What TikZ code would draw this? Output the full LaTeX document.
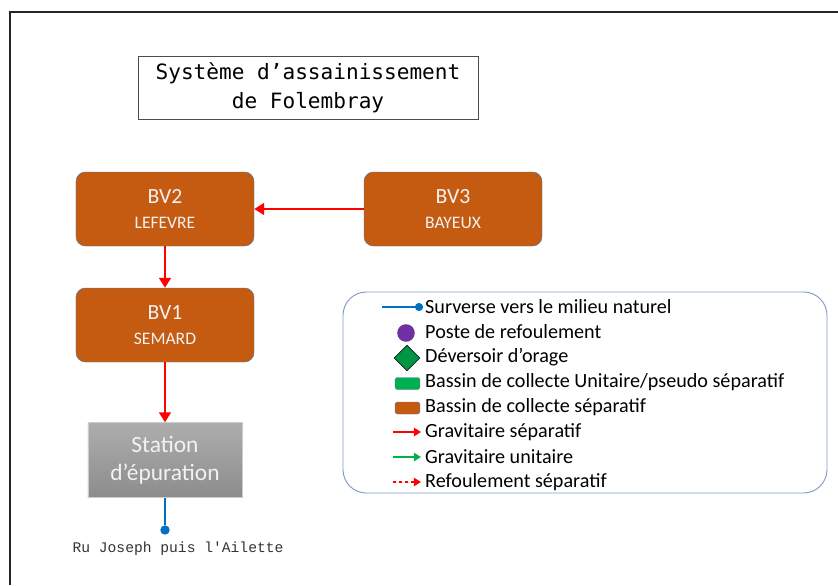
\documentclass[tikz,border=0pt]{standalone}
\usepackage{fontspec}
\setmainfont{Carlito}
\setmonofont{DejaVu Sans Mono}
\newfontfamily\riverfont{Liberation Mono}
\usetikzlibrary{arrows.meta,shapes.geometric}
\definecolor{bvbrown}{HTML}{C55A11}
\definecolor{bvedge}{HTML}{5B7BA6}
\definecolor{legedge}{HTML}{7F9CC8}
\definecolor{sepred}{HTML}{FF0000}
\definecolor{unigreen}{HTML}{00B050}
\definecolor{overblue}{HTML}{0070C0}
\definecolor{prpurple}{HTML}{7030A0}
\definecolor{lighttext}{HTML}{F2F2F2}
\begin{document}
\begin{tikzpicture}
[x=0.03cm,y=-0.03cm,
  bvbox/.style={draw=bvedge,fill=bvbrown,rounded corners=8pt,%
    minimum width=5.34cm,minimum height=2.22cm,text=lighttext,align=center,%
    font=\fontsize{18.5}{20}\selectfont},
  sepflow/.style={draw=sepred,line width=2pt,-{Triangle[length=8.5pt,width=10pt]}},
  outflow/.style={draw=overblue,line width=2pt},
  outdot/.style={circle,fill=overblue,inner sep=0pt,minimum size=8pt},
  legtext/.style={anchor=west,inner sep=0pt,font=\fontsize{17.2}{18}\selectfont},
  legarrow/.style={line width=1.8pt,-{Triangle[length=6pt,width=7pt]}},
  dottedflow/.style={dash pattern=on 2.5pt off 2.5pt}]
\useasboundingbox (0,0) rectangle (838,585);
%% frame
\draw[line width=1.2pt,black!85] (10,585) -- (10,12) -- (838,12);
%% title
\node (title) at (308,88) [draw=black!70,minimum width=10.2cm,minimum height=1.89cm,%
  align=center,font=\ttfamily\fontsize{18}{25}\selectfont]
  {Système d’assainissement\\de Folembray};
%% catchment areas
\foreach \nodename/\code/\street/\x/\y in {bvtwo/BV2/LEFEVRE/165/209,
  bvthree/BV3/BAYEUX/453/209, bvone/BV1/SEMARD/165/325} {
  \node (\nodename) at (\x,\y) [bvbox]
    {\code\\[1pt]{\fontsize{15}{15}\selectfont \street}};
}
%% treatment plant
\node (step) at (165,460) [draw=black!20,top color=black!32,bottom color=black!45,%
  minimum width=4.62cm,minimum height=2.25cm,align=center,text=lighttext,%
  font=\fontsize{20}{24}\selectfont] {Station\\d’épuration};
%% edges or lines
\path
\foreach \startnode/\endnode in {bvthree/bvtwo, bvtwo/bvone, bvone/step} {
  (\startnode) edge[sepflow] node {} (\endnode)
};
\node (outlet) at (165,530) [outdot] {};
\draw[outflow] (step) -- (outlet);
\node (river) at (178,549) [font=\riverfont\fontsize{12.5}{14}\selectfont,text=black!80]
  {Ru Joseph puis l'Ailette};
%% legend
\node (legend) at (585,392.5) [draw=legedge,line width=0.8pt,rounded corners=20pt,%
  minimum width=14.52cm,minimum height=6.03cm] {};
\foreach \i/\txt in {0/Surverse vers le milieu naturel, 1/Poste de refoulement,
  2/Déversoir d’orage, 3/{Bassin de collecte Unitaire/pseudo séparatif},
  4/Bassin de collecte séparatif, 5/Gravitaire séparatif,
  6/Gravitaire unitaire, 7/Refoulement séparatif} {
  \node (leg\i) at (425,307+25*\i) [legtext] {\txt};
}
\coordinate (survstart) at (382,307);
\node (survdot) at (419,307) [outdot,minimum size=7pt] {};
\draw[outflow,line width=1.6pt] (survstart) -- (survdot);
\node (prsym) at (406,333) [circle,fill=prpurple,inner sep=0pt,minimum size=15pt] {};
\node (dosym) at (407,358) [diamond,draw=black,fill=unigreen!85!black,inner sep=0pt,%
  minimum size=22pt] {};
\node (unisym) at (407.5,383.5) [draw=bvedge,fill=unigreen,rounded corners=1.5pt,%
  inner sep=0pt,minimum width=0.74cm,minimum height=0.36cm] {};
\node (sepsym) at (407.5,408) [draw=bvedge,fill=bvbrown,rounded corners=1.5pt,%
  inner sep=0pt,minimum width=0.74cm,minimum height=0.36cm] {};
\foreach \name/\colour/\y/\dash in {gsep/sepred/432/solid, guni/unigreen/457/solid,
  rsep/sepred/482/dottedflow} {
  \coordinate (\name a) at (393,\y);
  \coordinate (\name b) at (421,\y);
  \draw[legarrow,draw=\colour,fill=\colour,\dash] (\name a) -- (\name b);
}
\end{tikzpicture}
\end{document}
